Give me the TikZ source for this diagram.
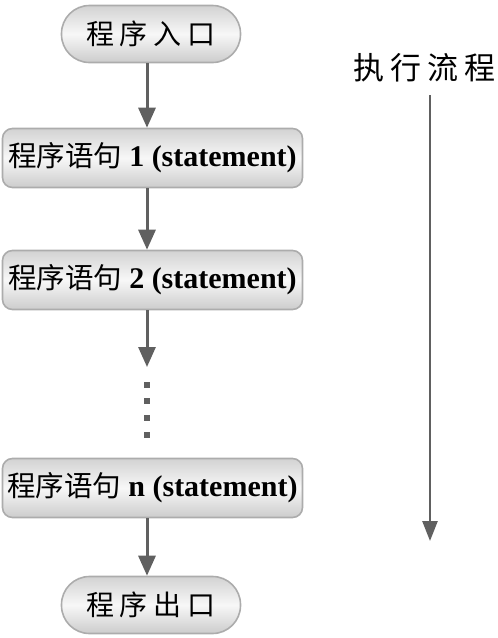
\documentclass[tikz,border=0pt]{standalone}
\usepackage{fontspec}
\newfontfamily\cjk{Noto Sans CJK SC}
\newfontfamily\lat{Liberation Serif}
\usetikzlibrary{arrows.meta,positioning}
\begin{document}
\begin{tikzpicture}[x=1pt,y=1pt,
  boxbase/.style={draw=gray!65, line width=1.6pt, top color=gray!35, bottom color=gray!40, middle color=gray!6, inner sep=0pt},
  pill/.style={boxbase, rounded corners=28pt, minimum width=179pt, minimum height=57pt},
  stmt/.style={boxbase, rounded corners=10pt, minimum width=300pt, minimum height=59pt},
  flow/.style={draw=gray!75!black, line width=3pt, -{Triangle[width=17pt,length=20pt]}},
  cjkt/.style={font=\fontsize{28}{30}\cjk},
]
\useasboundingbox (0,0) rectangle (498,-638);
\node[pill, cjkt] (entry) at (151,-34) {程\hspace{6pt}序\hspace{6pt}入\hspace{6pt}口};
\node[stmt] (s1) at (152.5,-158) {{\fontsize{28.5}{30}\cjk 程序语句}\hspace{7pt}{\fontsize{30}{32}\lat\bfseries 1 (statement)}};
\node[stmt] (s2) at (152.5,-280) {{\fontsize{28.5}{30}\cjk 程序语句}\hspace{7pt}{\fontsize{30}{32}\lat\bfseries 2 (statement)}};
\node[stmt] (sn) at (152.5,-488) {{\fontsize{28.5}{30}\cjk 程序语句}\hspace{7pt}{\fontsize{30}{32}\lat\bfseries n (statement)}};
\node[pill, cjkt] (exit) at (151,-605) {程\hspace{6pt}序\hspace{6pt}出\hspace{6pt}口};
\coordinate (a3end) at (147,-367);
\draw[flow] (entry.south -| 147,0) -- (s1.north -| 147,0);
\draw[flow] (s1.south -| 147,0) -- (s2.north -| 147,0);
\draw[flow] (s2.south -| 147,0) -- (a3end);
\draw[flow] (sn.south -| 147,0) -- (exit.north -| 147,0);
\foreach \y in {385,401,418,435} \fill[gray!75!black] (144,-\y-3) rectangle (150,-\y+3);
\node[font=\fontsize{31}{33}\cjk] (flowlabel) at (424.5,-68) {执\hspace{6pt}行\hspace{6pt}流\hspace{6pt}程};
\coordinate (fstart) at (430,-95);
\coordinate (fend) at (430,-541);
\draw[draw=gray!75!black, line width=2.6pt, -{Triangle[width=15pt,length=20pt]}] (fstart) -- (fend);
\end{tikzpicture}
\end{document}
